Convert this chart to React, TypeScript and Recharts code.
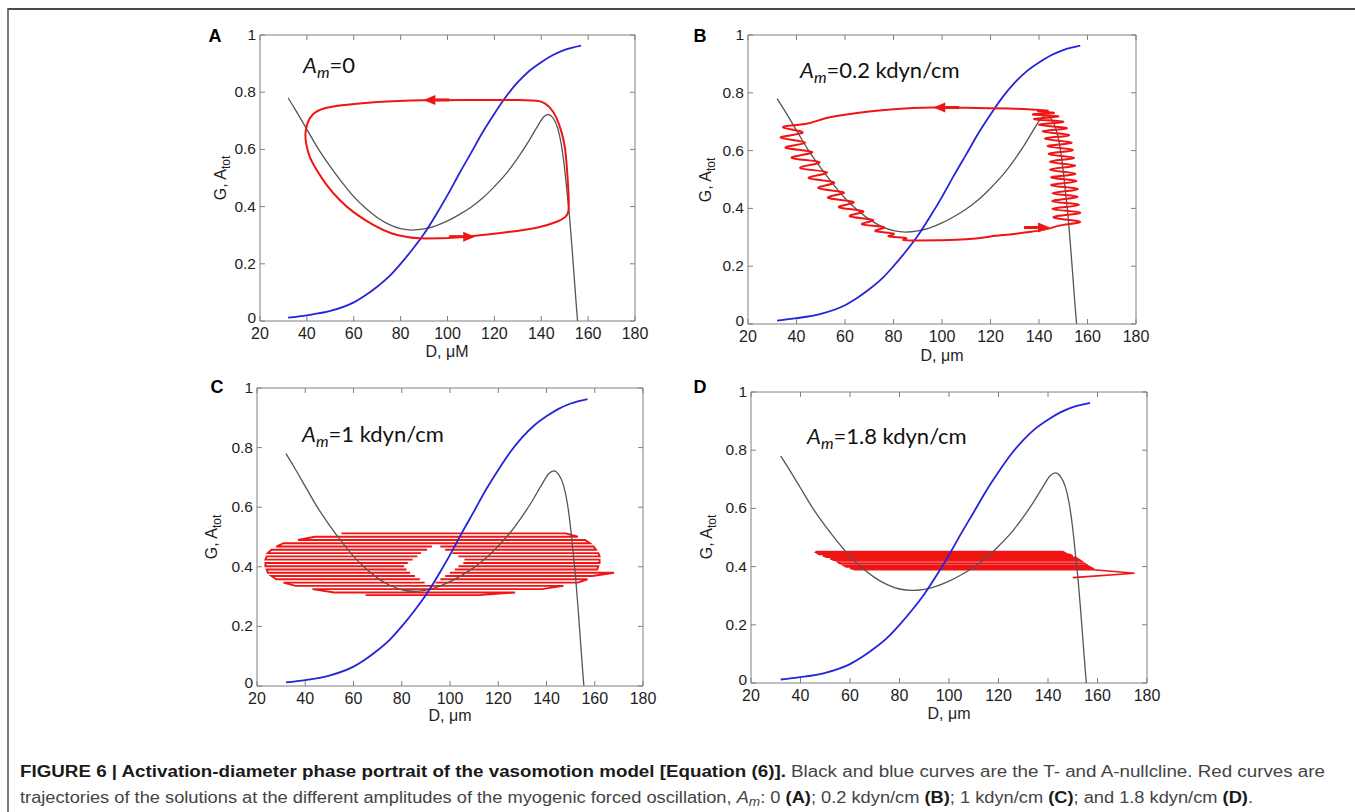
import React from "react";
import { ComposedChart, Line, Scatter, XAxis, YAxis } from "recharts";

const RED = "#f01414";
const BLUE = "#2424d8";
const GREY = "#555555";
const AXIS = "#808080";
const INK = "#1e1e1e";
const SANS = "'Liberation Sans', Arial, sans-serif";

const dTicks = [20, 40, 60, 80, 100, 120, 140, 160, 180];
const gTicks = [0, 0.2, 0.4, 0.6, 0.8, 1];

// T-nullcline (black) and A-nullcline (blue), the same in all four panels
const tNullD = [32, 35, 40, 45, 50, 55, 60, 65, 70, 75, 80, 85, 90, 95, 100, 105, 110, 115, 120, 125, 130, 134, 138, 141, 143, 145, 147, 148.5, 150, 151, 152, 153, 154, 155, 155.5];
const tNullG = [0.78, 0.74, 0.67, 0.6, 0.54, 0.485, 0.435, 0.395, 0.362, 0.338, 0.323, 0.318, 0.322, 0.333, 0.35, 0.372, 0.398, 0.43, 0.47, 0.515, 0.57, 0.62, 0.675, 0.713, 0.722, 0.71, 0.675, 0.62, 0.53, 0.45, 0.37, 0.27, 0.16, 0.05, 0];
const aNullD = [32, 40, 50, 60, 65, 70, 75, 80, 85, 90, 95, 100, 105, 110, 115, 120, 125, 130, 135, 140, 145, 150, 157];
const aNullA = [0.012, 0.02, 0.035, 0.065, 0.09, 0.12, 0.155, 0.2, 0.25, 0.305, 0.37, 0.44, 0.515, 0.587, 0.66, 0.725, 0.785, 0.835, 0.875, 0.905, 0.93, 0.948, 0.963];

// A: limit cycle, Am = 0
const cycleAD = [100, 111, 125, 138, 146.6, 150, 151.6, 151.6, 151, 150.2, 148.8, 146.5, 143.5, 139.5, 130, 110, 90, 70, 55, 47, 42.5, 40.2, 39.4, 39.7, 41.2, 44.2, 48.5, 54, 60.5, 68.3, 76, 82, 88.3, 100];
const cycleAG = [0.29, 0.297, 0.31, 0.326, 0.347, 0.362, 0.385, 0.45, 0.528, 0.6, 0.656, 0.71, 0.748, 0.768, 0.773, 0.773, 0.772, 0.766, 0.754, 0.742, 0.722, 0.69, 0.655, 0.62, 0.575, 0.528, 0.475, 0.423, 0.377, 0.336, 0.307, 0.295, 0.289, 0.29];
const arrowAD = [89.7, 111.8];
const arrowAG = [0.773, 0.295];
const arrowADir = [-1, 1];

// B: Am = 0.2 kdyn/cm
const cycleBD = [
  144, 130, 110, 96, 80, 65, 52, 43.5,
  34.5, 42.5, 33.5, 43.5, 35.5, 46.5, 38, 49.5, 41.5, 52.5, 45, 55.5, 49, 59.5, 53, 63.5, 57.5, 67.5, 62, 71.5, 67, 76, 72.5, 80, 78, 85, 84, 90,
  100, 110, 118, 122, 128, 136, 144, 150,
  156.5, 146, 157, 145.5, 156.5, 145.5, 156, 145.5, 156, 145, 155.5, 145, 155, 144.5, 155, 144.5, 154.5, 144, 154, 143.5, 153.5, 142.5, 152.5, 141.5, 151.5, 140, 150, 138, 148, 137.5, 146, 140, 144,
];
const cycleBG = [
  0.738, 0.745, 0.748, 0.749, 0.743, 0.73, 0.712, 0.692,
  0.68, 0.662, 0.645, 0.628, 0.61, 0.595, 0.575, 0.56, 0.54, 0.525, 0.505, 0.49, 0.47, 0.455, 0.437, 0.422, 0.404, 0.39, 0.373, 0.36, 0.345, 0.335, 0.322, 0.313, 0.303, 0.298, 0.291, 0.289,
  0.29, 0.293, 0.3, 0.305, 0.31, 0.318, 0.33, 0.343,
  0.355, 0.37, 0.385, 0.398, 0.412, 0.425, 0.44, 0.452, 0.467, 0.48, 0.494, 0.507, 0.52, 0.534, 0.548, 0.561, 0.575, 0.588, 0.602, 0.615, 0.628, 0.641, 0.654, 0.666, 0.678, 0.689, 0.7, 0.709, 0.718, 0.725, 0.73, 0.735, 0.738,
];
const arrowBD = [96.4, 144.5];
const arrowBG = [0.749, 0.334];
const arrowBDir = [-1, 1];

// C: Am = 1 kdyn/cm, horizontal sweeps (row level, left end, right end, hollow)
const bandCG = [0.512, 0.501, 0.49, 0.479, 0.468, 0.457, 0.446, 0.435, 0.424, 0.413, 0.402, 0.391, 0.38, 0.369, 0.358, 0.347, 0.336, 0.325, 0.314, 0.305];
const bandCLeft = [55, 44, 37, 31, 28, 26, 24.5, 24, 23.5, 23.5, 23.5, 24, 24.5, 26, 28, 31, 36, 43, 52, 65];
const bandCRight = [148, 153, 156, 158, 159.5, 160.5, 161.5, 162, 162, 162, 161.5, 161, 168, 159, 157, 153, 147, 138, 127, 112];
const bandCGapL = [null, null, null, null, 92.5, 90.5, 88, 86.5, 84.5, 82.5, 81, 82, 83.5, 85.5, 87.5, 89.5, null, null, null, null];
const bandCGapR = [null, null, null, null, 96, 98, 101, 103.5, 106, 105.5, 103.5, 102, 100, 98, 96, 94, null, null, null, null];

// D: Am = 1.8 kdyn/cm
const bandDG = [0.452, 0.447, 0.442, 0.437, 0.432, 0.427, 0.422, 0.416, 0.41, 0.404, 0.399, 0.394, 0.389];
const bandDLeft = [46, 46.5, 47.5, 49, 50.5, 52, 53.5, 55, 56, 57.5, 58.5, 60, 62];
const bandDRight = [146, 147, 148.5, 150, 151, 152, 153, 154, 155, 156, 157, 158, 158.5];
const tailDD = [175, 150];
const tailDG = [0.377, 0.362];

type Pt = { x: number; y: number | null; dir?: number };

const zip = (xs: number[], ys: (number | null)[]): Pt[] => xs.map((x, i) => ({ x, y: ys[i] }));

function sweeps(ys: number[], lefts: number[], rights: number[], gapL?: (number | null)[], gapR?: (number | null)[]): Pt[] {
  const out: Pt[] = [];
  ys.forEach((y, i) => {
    const gl = gapL ? gapL[i] : null;
    const gr = gapR ? gapR[i] : null;
    let row: Pt[] =
      gl != null && gr != null
        ? [{ x: lefts[i], y }, { x: gl, y }, { x: (gl + gr) / 2, y: null }, { x: gr, y }, { x: rights[i], y }]
        : [{ x: lefts[i], y }, { x: rights[i], y }];
    if (i % 2 === 1) row = row.reverse();
    out.push(...row);
  });
  return out;
}

const arrows = (xs: number[], ys: number[], dirs: number[]): Pt[] => xs.map((x, i) => ({ x, y: ys[i], dir: dirs[i] }));

function ArrowHead(props: any) {
  const { cx, cy } = props;
  const dir = props.payload?.dir ?? props.dir ?? 1;
  const back = cx - dir * 12;
  return (
    <g>
      <line x1={back} y1={cy} x2={back - dir * 14} y2={cy} stroke={RED} strokeWidth={3} />
      <polygon points={`${cx},${cy} ${back},${cy - 5} ${back},${cy + 5}`} fill={RED} />
    </g>
  );
}

function BottomTick({ x, y, payload }: any) {
  return (
    <g>
      <line x1={x} y1={y} x2={x} y2={y - 5} stroke={AXIS} />
      <text x={x} y={y + 18} textAnchor="middle" fontFamily={SANS} fontSize={16} fill={INK}>
        {payload.value}
      </text>
    </g>
  );
}
function TopTick({ x, y }: any) {
  return <line x1={x} y1={y} x2={x} y2={y + 5} stroke={AXIS} />;
}
function LeftTick({ x, y, payload }: any) {
  return (
    <g>
      <line x1={x} y1={y} x2={x + 5} y2={y} stroke={AXIS} />
      <text x={x - 4} y={payload.value === 0 ? y + 2 : y + 5} textAnchor="end" fontFamily={SANS} fontSize={15.5} fill={INK}>
        {payload.value}
      </text>
    </g>
  );
}
function RightTick({ x, y }: any) {
  return <line x1={x} y1={y} x2={x - 5} y2={y} stroke={AXIS} />;
}

type PanelProps = { L: number; T: number; R: number; B: number; under?: boolean; children: React.ReactNode };

// plot box = [L, R] x [T, B] in page pixels; axes take the space round it
function Panel({ L, T, R, B, under, children }: PanelProps) {
  const tNull = zip(tNullD, tNullG);
  const axisCommon = { type: "number", tickSize: 0, tickMargin: 0, tickLine: false, axisLine: { stroke: AXIS }, interval: 0, allowDataOverflow: true } as const;
  return (
    <div style={{ position: "absolute", left: L - 60, top: T - 20 }}>
      <ComposedChart width={R - L + 80} height={B - T + 45} margin={{ top: 0, right: 0, bottom: 0, left: 0 }}>
        <XAxis {...axisCommon} xAxisId="b" dataKey="x" domain={[20, 180]} ticks={dTicks} height={25} tick={BottomTick} />
        <XAxis {...axisCommon} xAxisId="t" orientation="top" dataKey="x" domain={[20, 180]} ticks={dTicks} height={20} tick={TopTick} />
        <YAxis {...axisCommon} yAxisId="l" dataKey="y" domain={[0, 1]} ticks={gTicks} width={60} tick={LeftTick} />
        <YAxis {...axisCommon} yAxisId="r" orientation="right" dataKey="y" domain={[0, 1]} ticks={gTicks} width={20} tick={RightTick} />
        <Line xAxisId="t" yAxisId="r" data={tNull} dataKey="y" stroke="none" dot={false} isAnimationActive={false} />
        {under ? children : null}
        <Line xAxisId="b" yAxisId="l" data={tNull} dataKey="y" type="monotone" stroke={GREY} strokeWidth={1.3} dot={false} isAnimationActive={false} />
        <Line xAxisId="b" yAxisId="l" data={zip(aNullD, aNullA)} dataKey="y" type="monotone" stroke={BLUE} strokeWidth={1.8} dot={false} isAnimationActive={false} />
        {under ? null : children}
      </ComposedChart>
    </div>
  );
}

function Note({ x, y, rest }: { x: number; y: number; rest: string }) {
  return (
    <text x={x} y={y} fontFamily="Lato, 'Open Sans', sans-serif" fontSize={22} fill="#111">
      <tspan fontStyle="italic">A</tspan>
      <tspan fontStyle="italic" fontSize={16} dy={5}>m</tspan>
      <tspan dy={-5}>{rest}</tspan>
    </text>
  );
}

function YTitle({ x, y }: { x: number; y: number }) {
  return (
    <text x={x} y={y} transform={`rotate(-90 ${x} ${y})`} textAnchor="middle" fontFamily={SANS} fontSize={16} fill={INK}>
      G, A<tspan fontSize={12} dy={4}>tot</tspan>
    </text>
  );
}

export default function App() {
  const lineProps = { xAxisId: "b", yAxisId: "l", dataKey: "y", dot: false, isAnimationActive: false } as const;
  return (
    <div style={{ position: "absolute", left: 0, top: 0, width: 1355, height: 812, background: "#fff", overflow: "hidden" }}>
      <div style={{ position: "absolute", left: 7, top: 8, width: 1348, height: 804, boxSizing: "border-box", borderTop: "2px solid #4a4a4a", borderLeft: "2px solid #7a7a7a" }} />

      <Panel L={260} T={35} R={635} B={321}>
        <Line {...lineProps} data={zip(cycleAD, cycleAG)} type="natural" stroke={RED} strokeWidth={2} />
        <Scatter xAxisId="b" yAxisId="l" data={arrows(arrowAD, arrowAG, arrowADir)} shape={ArrowHead} isAnimationActive={false} />
      </Panel>

      <Panel L={748} T={35} R={1136} B={324}>
        <Line {...lineProps} data={zip(cycleBD, cycleBG)} type="natural" stroke={RED} strokeWidth={2} />
        <Scatter xAxisId="b" yAxisId="l" data={arrows(arrowBD, arrowBG, arrowBDir)} shape={ArrowHead} isAnimationActive={false} />
      </Panel>

      <Panel L={257} T={388} R={643} B={686} under>
        <Line {...lineProps} data={sweeps(bandCG, bandCLeft, bandCRight, bandCGapL, bandCGapR)} type="linear" stroke={RED} strokeWidth={1.9} />
      </Panel>

      <Panel L={751} T={392} R={1147} B={683} under>
        <Line {...lineProps} data={[...sweeps(bandDG, bandDLeft, bandDRight), ...zip(tailDD, tailDG)]} type="linear" stroke={RED} strokeWidth={1.6} />
      </Panel>

      <svg width={1355} height={812} style={{ position: "absolute", left: 0, top: 0, pointerEvents: "none" }}>
        <g fontFamily={SANS} fontWeight="bold" fontSize={18} fill="#000" textAnchor="middle">
          <text x={215} y={42}>A</text>
          <text x={700} y={42}>B</text>
          <text x={217} y={393}>C</text>
          <text x={700} y={393}>D</text>
        </g>

        <Note x={303} y={73} rest="=0" />
        <Note x={800} y={78} rest="=0.2 kdyn/cm" />
        <Note x={302} y={442} rest="=1 kdyn/cm" />
        <Note x={807} y={444} rest="=1.8 kdyn/cm" />

        <YTitle x={226} y={178} />
        <YTitle x={711} y={180} />
        <YTitle x={217} y={537} />
        <YTitle x={712} y={537} />

        <g fontFamily={SANS} fontSize={16} fill={INK} textAnchor="middle">
          <text x={447} y={357}>D, μM</text>
          <text x={942} y={361}>D, μm</text>
          <text x={450} y={721}>D, μm</text>
          <text x={949} y={719}>D, μm</text>
        </g>

        <text x={20} y={777} textLength={1305} lengthAdjust="spacingAndGlyphs" fontFamily={SANS} fontSize={16} fill="#444">
          <tspan fontWeight="bold" fill="#1a1a1a">FIGURE 6 | Activation-diameter phase portrait of the vasomotion model [Equation (6)].</tspan>
          <tspan>{" Black and blue curves are the T- and A-nullcline. Red curves are"}</tspan>
        </text>
        <text x={20} y={803} textLength={1233} lengthAdjust="spacingAndGlyphs" fontFamily={SANS} fontSize={16} fill="#444">
          <tspan>{"trajectories of the solutions at the different amplitudes of the myogenic forced oscillation, "}</tspan>
          <tspan fontStyle="italic">A</tspan>
          <tspan fontStyle="italic" fontSize={12} dy={3}>m</tspan>
          <tspan dy={-3}>{": 0 "}</tspan>
          <tspan fontWeight="bold" fill="#1a1a1a">(A)</tspan>
          <tspan>{"; 0.2 kdyn/cm "}</tspan>
          <tspan fontWeight="bold" fill="#1a1a1a">(B)</tspan>
          <tspan>{"; 1 kdyn/cm "}</tspan>
          <tspan fontWeight="bold" fill="#1a1a1a">(C)</tspan>
          <tspan>{"; and 1.8 kdyn/cm "}</tspan>
          <tspan fontWeight="bold" fill="#1a1a1a">(D)</tspan>
          <tspan>.</tspan>
        </text>
      </svg>
    </div>
  );
}
